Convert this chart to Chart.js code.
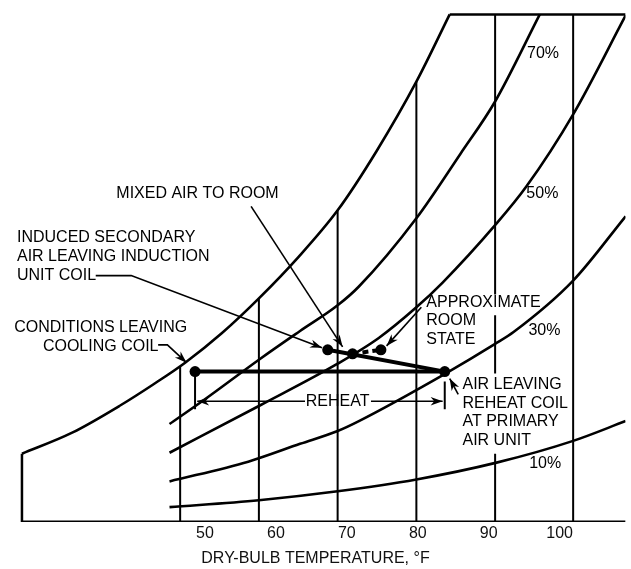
<!DOCTYPE html>
<html>
<head>
<meta charset="utf-8">
<script src="https://cdn.jsdelivr.net/npm/chart.js@4.4.1/dist/chart.umd.min.js"></script>
<style>
  html, body { margin: 0; padding: 0; background: #fff; }
</style>
</head>
<body>
<canvas id="chart" width="631" height="569"></canvas>
<script>
// Dry-bulb tick labels (°F)
const tickTemps = [50, 60, 70, 80, 90, 100];

// Relative humidity curves: dry-bulb temperature (°F) vs moisture (chart units)
const satTemp = [24.2, 31.2, 38.1, 42.7, 47.2, 52.4, 57.6, 63.2, 68.7, 74.2, 79.8, 84.5];
const satMoist = [69, 90, 118, 139, 161, 191, 226, 268, 315, 375, 445, 513];

const rh70Temp = [45.0, 49.6, 57.8, 63.4, 68.7, 71.7, 79.8, 86.0, 90.9, 97.2];
const rh70Moist = [99, 122, 165, 193, 219, 238, 307, 372, 425, 513];

const rh50Temp = [45.0, 57.8, 68.7, 74.5, 79.8, 83.5, 90.9, 95.3, 101.9, 109.3];
const rh50Moist = [70, 118, 160, 186, 217, 242, 300, 339, 412, 512];

const rh30Temp = [45.0, 56.1, 63.4, 68.7, 71.7, 83.9, 90.9, 93.5, 101.9, 109.3];
const rh30Moist = [41, 61, 79, 92, 102, 150, 180, 192, 244, 309];

const rh10Temp = [45.0, 57.6, 68.7, 79.8, 91.1, 101.9, 109.3];
const rh10Moist = [15, 22, 31, 43, 60, 82, 102];

// Vertical dry-bulb lines (segments, broken where text crosses)
const dbLineTemp = [46.5, 57.6, 68.7, 79.8, 90.9, 90.9, 90.9, 101.9];
const dbLineLow = [0, 0, 0, 0, 0, 150, 230, 0];
const dbLineHigh = [157, 226, 315, 445, 69, 209, 513, 513];

// Chart outline
const edgeTemp = [24.2, 109.3];
const edgeLeftMoist = 69;
const topMoist = 513;

// Process states: cooling coil, reheat coil, induced secondary, mixed air, room
const stateTemp = [48.6, 83.8, 67.3, 70.8, 74.8];
const stateMoist = [152, 152, 174, 170, 174];

// Reheat dimension
const reheatTicksLow = 114;
const reheatLineMoist = 122;

// Callouts (positions in chart units)
const notes = [
  { lines: ['MIXED AIR TO ROOM'], t: 37.5, w: 332, align: 'left', leader: [[56.5, 319], [69.4, 177]] },
  { lines: ['INDUCED SECONDARY', 'AIR LEAVING INDUCTION', 'UNIT COIL'], t: 23.5, w: 287, align: 'left',
    leader: [[34.6, 249], [39.6, 249], [66.5, 176]] },
  { lines: ['CONDITIONS LEAVING', 'COOLING COIL'], t: 35.3, w: 196, align: 'center',
    leader: [[43.4, 179], [44.7, 179], [47.4, 161]] },
  { lines: ['APPROXIMATE', 'ROOM', 'STATE'], t: 81.2, w: 222, align: 'left', leader: [[80.5, 217], [75.6, 178]] },
  { lines: ['AIR LEAVING', 'REHEAT COIL', 'AT PRIMARY', 'AIR UNIT'], t: 86.3, w: 139, align: 'left',
    leader: [[85.7, 129], [84.5, 145]] },
  { lines: ['70%'], t: 95.4, w: 473, align: 'left' },
  { lines: ['50%'], t: 95.3, w: 332, align: 'left' },
  { lines: ['30%'], t: 95.6, w: 193, align: 'left' },
  { lines: ['10%'], t: 95.7, w: 59, align: 'left' },
  { lines: ['REHEAT'], t: 68.7, w: 122, align: 'center' }
];
const reheatArrows = [[[64.1, 122], [48.9, 122]], [[73.4, 122], [83.5, 122]]];

const FONT = '16px "Liberation Sans", Arial, sans-serif';

function pts(ts, ws) {
  return ts.map((t, i) => ({ x: t, y: ws[i] }));
}

function curve(ts, ws, width) {
  return {
    data: pts(ts, ws), showLine: true, borderColor: '#000', borderWidth: width,
    pointRadius: 0, cubicInterpolationMode: 'monotone', fill: false
  };
}

function segment(a, b, width, dash) {
  return {
    data: [a, b], showLine: true, borderColor: '#000', borderWidth: width,
    pointRadius: 0, tension: 0, fill: false, borderDash: dash || []
  };
}

const datasets = [
  curve(satTemp, satMoist, 2.6),
  curve(rh70Temp, rh70Moist, 2.6),
  curve(rh50Temp, rh50Moist, 2.6),
  curve(rh30Temp, rh30Moist, 2.6),
  curve(rh10Temp, rh10Moist, 2.6)
];

dbLineTemp.forEach((t, i) => {
  datasets.push(segment({ x: t, y: dbLineLow[i] }, { x: t, y: dbLineHigh[i] }, 2));
});

// outline
datasets.push(segment({ x: edgeTemp[0], y: 0 }, { x: edgeTemp[1], y: 0 }, 3));
datasets.push(segment({ x: edgeTemp[0], y: 0 }, { x: edgeTemp[0], y: edgeLeftMoist }, 2.5));
datasets.push(segment({ x: satTemp[satTemp.length - 1], y: topMoist }, { x: edgeTemp[1], y: topMoist }, 2.5));

// process lines
const st = pts(stateTemp, stateMoist);
datasets.push(segment(st[0], st[1], 4));
datasets.push(segment(st[2], st[1], 4));
datasets.push(segment(st[3], st[4], 4, [6, 4]));
datasets.push(segment(st[0], { x: stateTemp[0], y: reheatTicksLow }, 2));
datasets.push(segment({ x: stateTemp[1], y: stateMoist[1] - 10 }, { x: stateTemp[1], y: reheatTicksLow }, 2));

// state dots
datasets.push({
  data: st, showLine: false, pointRadius: 5.5, pointBackgroundColor: '#000',
  pointBorderColor: '#000', pointBorderWidth: 0
});

function arrowLine(ctx, p) {
  ctx.beginPath();
  ctx.moveTo(p[0][0], p[0][1]);
  for (let i = 1; i < p.length; i++) ctx.lineTo(p[i][0], p[i][1]);
  ctx.stroke();
  const a = p[p.length - 2], b = p[p.length - 1];
  const ang = Math.atan2(b[1] - a[1], b[0] - a[0]);
  const len = 12, half = 4.2;
  ctx.beginPath();
  ctx.moveTo(b[0], b[1]);
  ctx.lineTo(b[0] - len * Math.cos(ang) + half * Math.sin(ang), b[1] - len * Math.sin(ang) - half * Math.cos(ang));
  ctx.lineTo(b[0] - 0.7 * len * Math.cos(ang), b[1] - 0.7 * len * Math.sin(ang));
  ctx.lineTo(b[0] - len * Math.cos(ang) - half * Math.sin(ang), b[1] - len * Math.sin(ang) + half * Math.cos(ang));
  ctx.closePath();
  ctx.fill();
}

const callouts = {
  id: 'callouts',
  afterDatasetsDraw(chart) {
    const { ctx, scales: { x, y } } = chart;
    const toPx = (q) => [x.getPixelForValue(q[0]), y.getPixelForValue(q[1])];
    ctx.save();
    ctx.fillStyle = '#000';
    ctx.strokeStyle = '#000';
    ctx.lineWidth = 1.6;
    ctx.font = FONT;
    ctx.textBaseline = 'middle';
    notes.forEach(n => {
      ctx.textAlign = n.align;
      const px = x.getPixelForValue(n.t);
      const py = y.getPixelForValue(n.w);
      n.lines.forEach((line, i) => ctx.fillText(line, px, py + i * 18.7));
      if (n.leader) arrowLine(ctx, n.leader.map(toPx));
    });
    reheatArrows.forEach(a => arrowLine(ctx, a.map(toPx)));
    ctx.restore();
  }
};

new Chart(document.getElementById('chart'), {
  type: 'scatter',
  data: { datasets },
  options: {
    responsive: false,
    animation: false,
    layout: { padding: 0 },
    plugins: { legend: { display: false }, tooltip: { enabled: false } },
    scales: {
      x: {
        type: 'linear', position: 'bottom', min: 21.88, max: 109.28,
        grid: { display: false, drawTicks: false },
        border: { display: false },
        afterBuildTicks: s => { s.ticks = tickTemps.map(v => ({ value: v })); },
        afterFit: s => { s.height = 47; },
        ticks: { color: '#111', padding: 2, font: { family: '"Liberation Sans", Arial', size: 16 } },
        title: {
          display: true, text: 'DRY-BULB TEMPERATURE, °F', color: '#111',
          padding: { top: 0, bottom: 1 }, font: { family: '"Liberation Sans", Arial', size: 16 }
        }
      },
      y: { type: 'linear', min: 0, max: 522, display: false }
    }
  },
  plugins: [callouts]
});
</script>
</body>
</html>
